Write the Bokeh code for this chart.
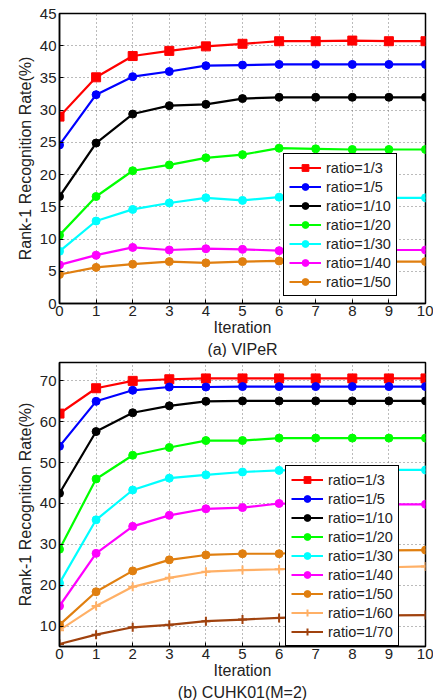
from bokeh.plotting import figure
from bokeh.models import Legend, LegendItem, Title, FixedTicker, Range1d
from bokeh.layouts import column
from bokeh.embed import file_html
from bokeh.resources import INLINE

iterations = [0, 1, 2, 3, 4, 5, 6, 7, 8, 9, 10]

# (a) VIPeR
viper_labels = ["ratio=1/3", "ratio=1/5", "ratio=1/10", "ratio=1/20", "ratio=1/30", "ratio=1/40", "ratio=1/50"]
viper_r3 = [29.0, 35.1, 38.4, 39.2, 39.9, 40.3, 40.7, 40.7, 40.8, 40.7, 40.7]
viper_r5 = [24.6, 32.4, 35.2, 36.0, 36.9, 37.0, 37.1, 37.1, 37.1, 37.1, 37.1]
viper_r10 = [16.6, 24.9, 29.4, 30.7, 30.9, 31.8, 32.0, 32.0, 32.0, 32.0, 32.0]
viper_r20 = [10.6, 16.6, 20.6, 21.5, 22.6, 23.1, 24.1, 24.0, 23.9, 23.9, 23.9]
viper_r30 = [8.1, 12.8, 14.6, 15.6, 16.4, 16.0, 16.5, 16.5, 16.5, 16.4, 16.4]
viper_r40 = [6.0, 7.5, 8.7, 8.3, 8.5, 8.4, 8.2, 8.3, 8.3, 8.3, 8.3]
viper_r50 = [4.5, 5.6, 6.1, 6.5, 6.3, 6.5, 6.6, 6.5, 6.5, 6.5, 6.5]

# (b) CUHK01(M=2)
cuhk_labels = ["ratio=1/3", "ratio=1/5", "ratio=1/10", "ratio=1/20", "ratio=1/30", "ratio=1/40",
               "ratio=1/50", "ratio=1/60", "ratio=1/70"]
cuhk_r3 = [62.0, 68.2, 70.0, 70.4, 70.6, 70.6, 70.6, 70.6, 70.6, 70.6, 70.6]
cuhk_r5 = [54.0, 65.0, 67.7, 68.5, 68.5, 68.6, 68.6, 68.6, 68.6, 68.6, 68.6]
cuhk_r10 = [42.5, 57.6, 62.2, 63.9, 65.0, 65.1, 65.1, 65.1, 65.1, 65.1, 65.1]
cuhk_r20 = [28.8, 46.0, 51.8, 53.7, 55.4, 55.4, 56.0, 56.0, 56.0, 56.0, 56.0]
cuhk_r30 = [20.5, 36.0, 43.3, 46.2, 47.0, 47.7, 48.1, 48.2, 48.2, 48.2, 48.2]
cuhk_r40 = [14.9, 27.8, 34.4, 37.1, 38.7, 39.0, 40.0, 39.8, 39.8, 39.8, 39.8]
cuhk_r50 = [10.3, 18.4, 23.5, 26.2, 27.4, 27.7, 27.7, 28.3, 28.5, 28.5, 28.6]
cuhk_r60 = [9.0, 14.9, 19.6, 21.8, 23.3, 23.7, 23.9, 24.2, 24.3, 24.4, 24.6]
cuhk_r70 = [5.6, 7.9, 9.7, 10.3, 11.2, 11.6, 12.0, 12.3, 12.5, 12.6, 12.7]

colors = ["#ff0000", "#0000ff", "#000000", "#00ff00", "#00ffff", "#ff00ff",
          "#e07f10", "#ffb066", "#a0420e"]
markers = ["square", "circle", "circle", "circle", "circle", "circle", "circle", "cross", "cross"]

FONT = "Liberation Sans"


def make_fig(series, labels, yr, yticks, subtitle, width, height, borders, legend_loc, spacing):
    p = figure(width=width, height=height, x_range=Range1d(0, 10), y_range=Range1d(*yr),
               output_backend="svg", toolbar_location=None,
               min_border_left=borders[0], min_border_right=borders[1],
               min_border_top=borders[2], min_border_bottom=borders[3])
    p.outline_line_color = "black"
    p.outline_line_width = 1.5
    p.outline_line_alpha = 1
    p.background_fill_color = "white"
    for ax in (p.xaxis[0], p.yaxis[0]):
        ax.major_tick_in = 4
        ax.major_tick_out = 0
        ax.minor_tick_line_color = None
        ax.axis_line_width = 1.5
        ax.major_tick_line_width = 1
        ax.major_label_text_font = FONT
        ax.major_label_text_font_size = "15px"
        ax.major_label_text_color = "#222222"
        ax.axis_label_text_font = FONT
        ax.axis_label_text_font_size = "16px"
        ax.axis_label_text_font_style = "normal"
        ax.axis_label_text_color = "#222222"
    p.xaxis[0].major_label_standoff = 2
    p.yaxis[0].major_label_standoff = 3
    p.xaxis[0].axis_label_standoff = 0
    p.yaxis[0].axis_label_standoff = 3
    p.xaxis[0].ticker = FixedTicker(ticks=iterations)
    p.yaxis[0].ticker = FixedTicker(ticks=yticks)
    p.xaxis[0].axis_label = "Iteration"
    p.yaxis[0].axis_label = "Rank-1 Recognition Rate(%)"
    p.xgrid.grid_line_color = "#777777"
    p.ygrid.grid_line_color = "#777777"
    p.xgrid.grid_line_dash = "1 3"
    p.ygrid.grid_line_dash = "1 3"
    p.xgrid.ticker = FixedTicker(ticks=iterations)
    p.ygrid.ticker = FixedTicker(ticks=yticks)

    items = []
    for i, (ys, lab) in enumerate(zip(series, labels)):
        c = colors[i]
        ln = p.line(iterations, ys, line_color=c, line_width=2.2)
        if markers[i] == "square":
            mk = p.scatter(iterations, ys, marker="square", size=9, fill_color=c, line_color=c)
        elif markers[i] == "circle":
            mk = p.scatter(iterations, ys, marker="circle", size=8, fill_color=c, line_color=c)
        else:
            mk = p.scatter(iterations, ys, marker="cross", size=9, line_color=c, line_width=2)
        items.append(LegendItem(label=lab, renderers=[ln, mk]))

    leg = Legend(items=items, location=legend_loc)
    leg.border_line_color = "black"
    leg.border_line_width = 1
    leg.border_line_alpha = 1
    leg.background_fill_alpha = 1
    leg.label_text_font = FONT
    leg.label_text_font_size = "14.5px"
    leg.label_text_color = "#222222"
    leg.glyph_width = 32
    leg.glyph_height = 17
    leg.label_height = 17
    leg.label_standoff = 5
    leg.spacing = spacing
    leg.padding = 5
    leg.margin = 0
    p.add_layout(leg, "center")

    t = Title(text=subtitle, align="center", text_font=FONT, text_font_size="16px",
              text_font_style="normal", text_color="#222222", standoff=0, offset=0)
    p.add_layout(t, "below")
    return p


p1 = make_fig([viper_r3, viper_r5, viper_r10, viper_r20, viper_r30, viper_r40, viper_r50],
              viper_labels, (0, 45), [0, 5, 10, 15, 20, 25, 30, 35, 40, 45], "(a) VIPeR",
              433, 357, (57, 8, 13, 10), (224, 7), 2)
p2 = make_fig([cuhk_r3, cuhk_r5, cuhk_r10, cuhk_r20, cuhk_r30, cuhk_r40, cuhk_r50, cuhk_r60, cuhk_r70],
              cuhk_labels, (5, 74.5), [10, 20, 30, 40, 50, 60, 70], "(b) CUHK01(M=2)",
              433, 343, (59, 8, 5, 10), (226, 0), 2)

layout = column(p1, p2, spacing=0)
open("out.html", "w").write(file_html(layout, INLINE))
